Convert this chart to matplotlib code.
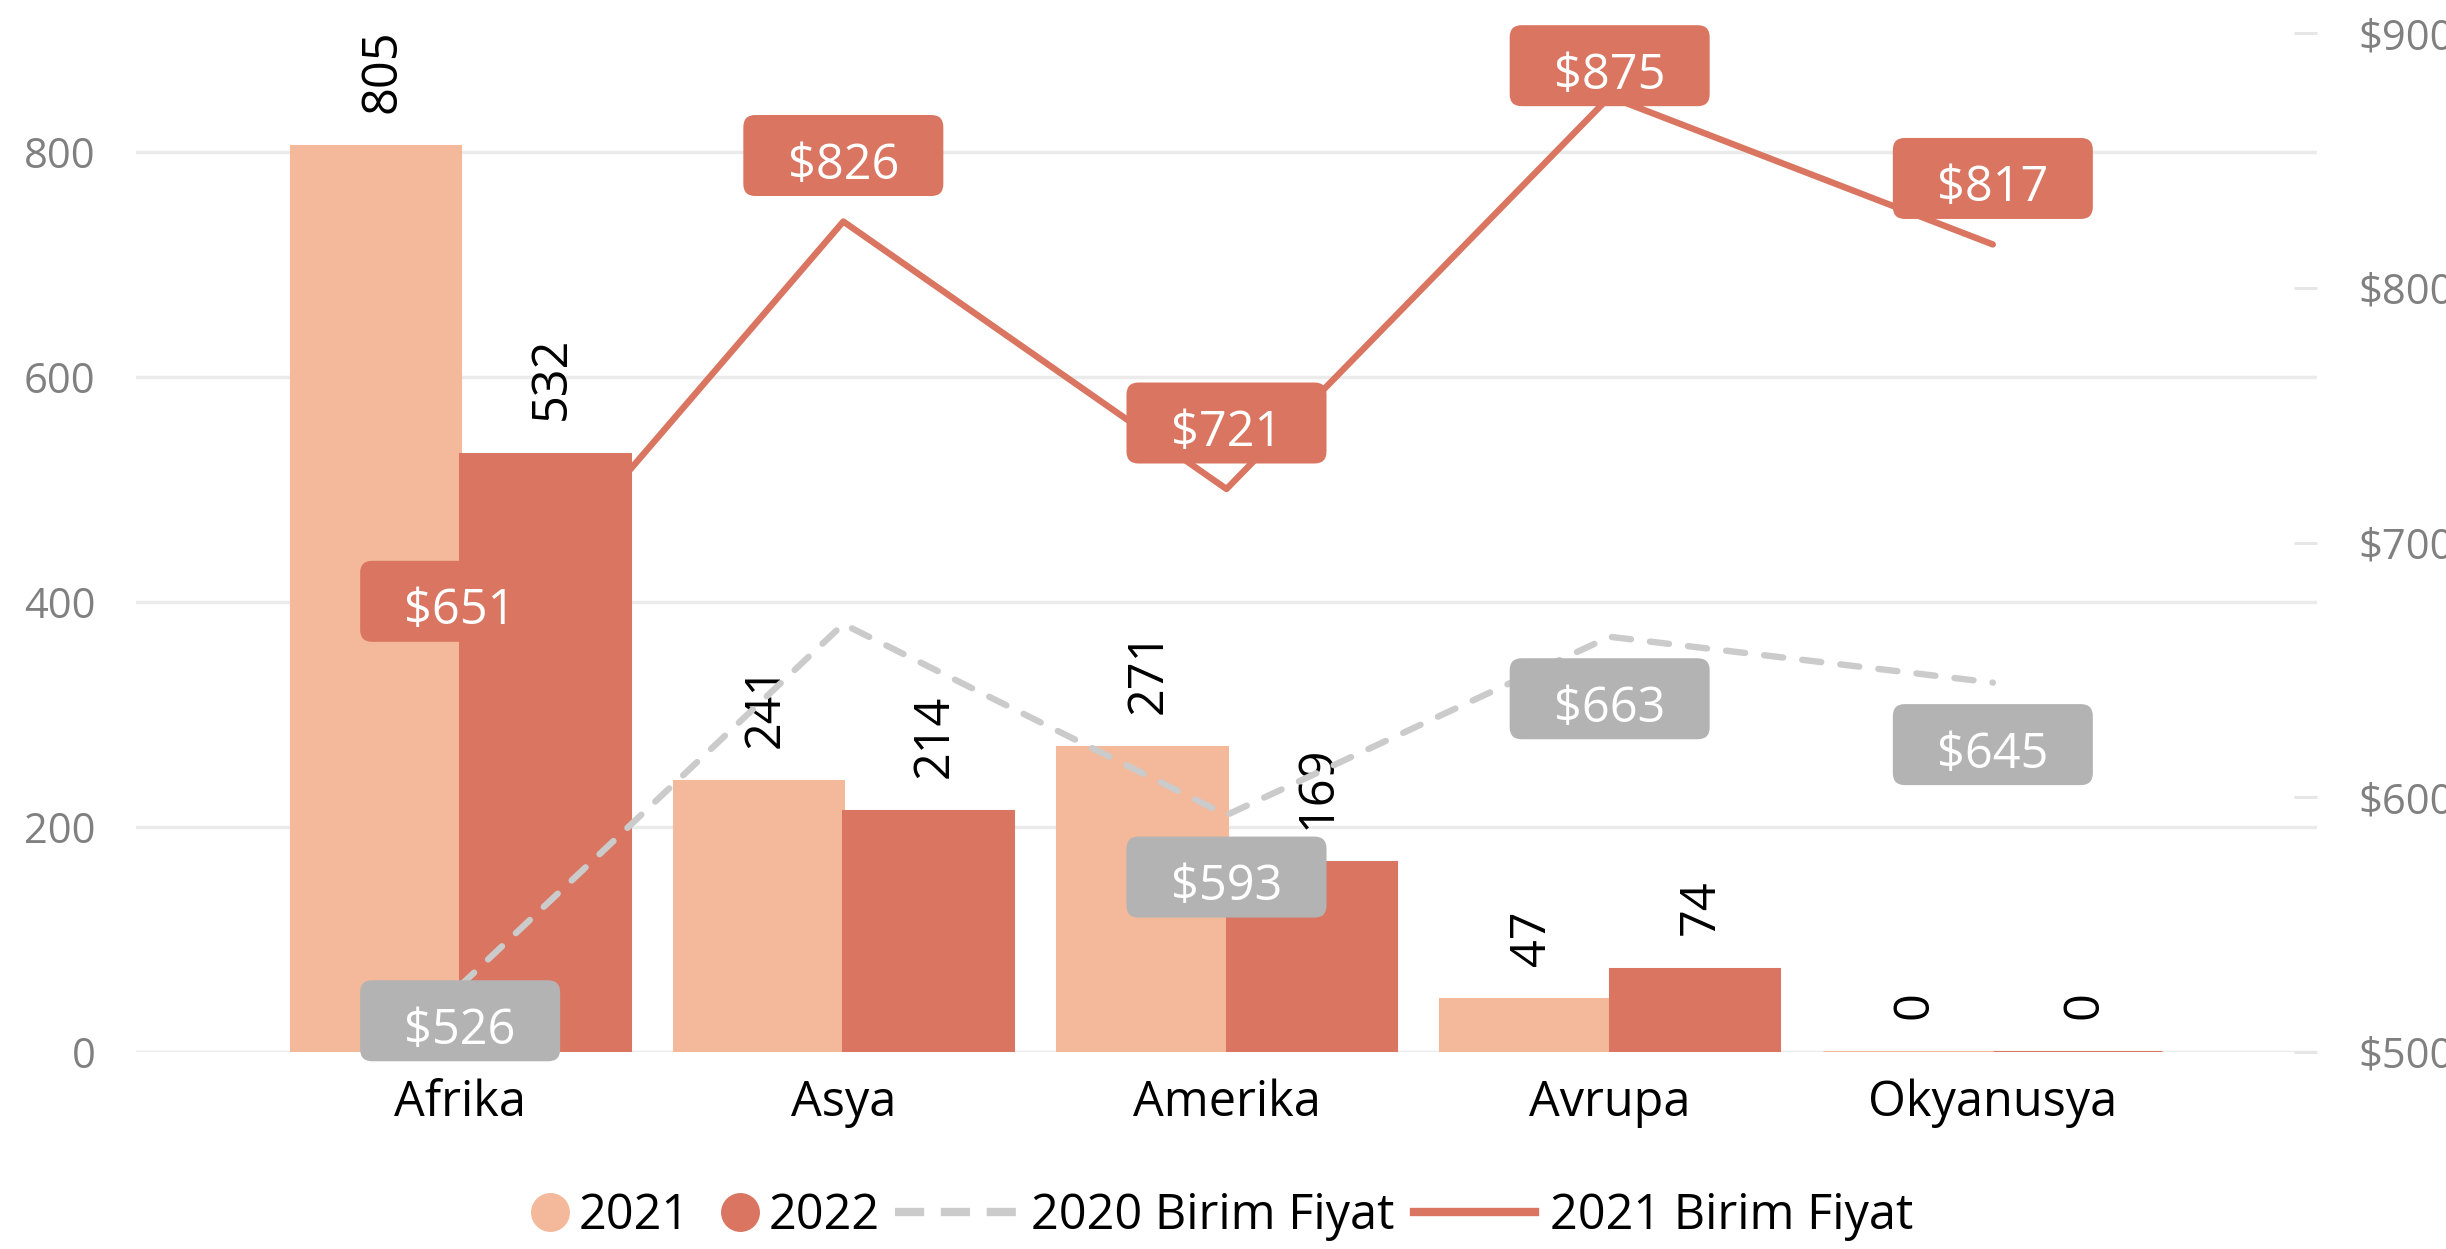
import matplotlib
matplotlib.use("Agg")
import matplotlib.pyplot as plt
import matplotlib.patches as mpatches
import matplotlib.transforms as mtransforms
from matplotlib.lines import Line2D

plt.rcParams['font.family'] = ['Open Sans', 'DejaVu Sans']

# data
regions = ["Afrika", "Asya", "Amerika", "Avrupa", "Okyanusya"]
sales_2021 = [805, 241, 271, 47, 0]
sales_2022 = [532, 214, 169, 74, 0]
price_2020 = [526, 668, 593, 663, 645]
price_2021 = [651, 826, 721, 875, 817]
show_2020_label = [True, False, True, True, True]   # no label on Asya in the original

left_ticks = [0, 200, 400, 600, 800]
right_ticks = [500, 600, 700, 800, 900]

# colours
c_2021 = '#F3B99A'
c_2022 = '#D97560'
c_dash = '#CBCBCB'
c_gray_box = '#B3B3B3'
c_grid = '#EBEBEB'
c_tick = '#808080'

# label box offsets (inches, relative to the line point)
dy_2021 = [0.66, 0.66, 0.66, 0.31, 0.66]
dy_2020 = [-0.35, 0.0, -0.62, -0.62, -0.62]
box_w, box_h = 2.0, 0.81

fig = plt.figure(figsize=(24.46, 12.49), dpi=100)
ax = fig.add_axes([136 / 2446, 197 / 1249, 2181 / 2446, 1019 / 1249])
ax_back = ax.twinx()
ax_bars = ax.twinx()
ax_front = ax.twinx()

ax.set_zorder(0)
ax_back.set_zorder(1)
ax_bars.set_zorder(2)
ax_front.set_zorder(3)
for a in (ax_back, ax_bars, ax_front):
    a.patch.set_visible(False)
for a in (ax, ax_back, ax_bars, ax_front):
    for s in a.spines.values():
        s.set_visible(False)

xs = list(range(len(regions)))
ax.set_xlim(-0.846, len(regions) - 1 + 0.846)
y_left_top = 905.8
ax.set_ylim(0, y_left_top)
ax_bars.set_ylim(0, y_left_top)
ax_back.set_ylim(500, 900)
ax_front.set_ylim(500, 900)

# primary axis: grid, left ticks, categories
ax.set_yticks(left_ticks)
ax.set_yticklabels([str(t) for t in left_ticks])
ax.yaxis.grid(True, color=c_grid, linewidth=2.5)
ax.set_axisbelow(True)
ax.tick_params(axis='y', length=0, pad=29, labelsize=30, labelcolor=c_tick)
ax.set_xticks(xs)
ax.set_xticklabels(regions)
ax.tick_params(axis='x', length=0, pad=19, labelsize=35, labelcolor='black')

# 2021 price line sits behind the bars
ax_back.plot(xs, price_2021, color=c_2022, linewidth=4.6, solid_capstyle='round',
             solid_joinstyle='round')
ax_back.yaxis.set_visible(False)

# bars
bw = 0.442
ax_bars.bar([x - bw / 2 for x in xs], sales_2021, width=bw, color=c_2021,
            edgecolor=c_2021, linewidth=2.2)
ax_bars.bar([x + bw / 2 for x in xs], sales_2022, width=bw, color=c_2022,
            edgecolor=c_2022, linewidth=2.2)
for x, v in zip(xs, sales_2021):
    ax_bars.annotate(str(v), (x - bw / 2, v), xytext=(5, 24), textcoords='offset points',
                     rotation=90, ha='center', va='bottom', fontsize=35, color='black')
for x, v in zip(xs, sales_2022):
    ax_bars.annotate(str(v), (x + bw / 2, v), xytext=(5, 24), textcoords='offset points',
                     rotation=90, ha='center', va='bottom', fontsize=35, color='black')
ax_bars.yaxis.set_visible(False)

# 2020 price line on top of the bars
ax_front.plot(xs, price_2020, color=c_dash, linewidth=4.6, dashes=(3.0, 3.0),
              dash_capstyle='round', dash_joinstyle='round')
ax_front.set_yticks(right_ticks)
ax_front.set_yticklabels([f"${t}" for t in right_ticks])
ax_front.tick_params(axis='y', direction='in', length=16.5, width=2.2, color='#E6E6E6',
                     pad=30, labelsize=30, labelcolor=c_tick)


def label_box(x, y, dy, text, face):
    trans = fig.dpi_scale_trans + mtransforms.ScaledTranslation(x, y, ax_front.transData)
    box = mpatches.FancyBboxPatch((-box_w / 2, dy - box_h / 2), box_w, box_h,
                                  boxstyle="round,pad=0,rounding_size=0.12",
                                  transform=trans, facecolor=face, edgecolor='none',
                                  zorder=5, clip_on=False)
    ax_front.add_patch(box)
    ax_front.text(0, dy - 0.23, text, transform=trans, ha='center', va='baseline',
                  fontsize=35, color='white', zorder=6, clip_on=False)


for x, v, dy in zip(xs, price_2021, dy_2021):
    label_box(x, v, dy, f"${v}", c_2022)
for x, v, dy, show in zip(xs, price_2020, dy_2020, show_2020_label):
    if show:
        label_box(x, v, dy, f"${v}", c_gray_box)

# legend, split in two so the circle handles can stay narrow
circle_handles = [
    Line2D([], [], marker='o', linestyle='none', markersize=27, color=c_2021),
    Line2D([], [], marker='o', linestyle='none', markersize=27, color=c_2022),
]
line_handles = [
    Line2D([], [], color=c_dash, linewidth=6, dashes=(3.5, 2.0)),
    Line2D([], [], color=c_2022, linewidth=6),
]
leg1 = fig.legend(circle_handles, ["2021", "2022"], loc='center right',
                  bbox_to_anchor=(880 / 2446, 0.0264), ncol=2, frameon=False,
                  fontsize=35, handlelength=0.78, handletextpad=0.2,
                  columnspacing=0.64, borderpad=0, borderaxespad=0)
leg2 = fig.legend(line_handles, ["2020 Birim Fiyat", "2021 Birim Fiyat"], loc='center left',
                  bbox_to_anchor=(895 / 2446, 0.0264), ncol=2, frameon=False,
                  fontsize=35, handlelength=2.5, handletextpad=0.3,
                  columnspacing=0.4, borderpad=0, borderaxespad=0)

fig.savefig("out.png", dpi=100, facecolor='white')
